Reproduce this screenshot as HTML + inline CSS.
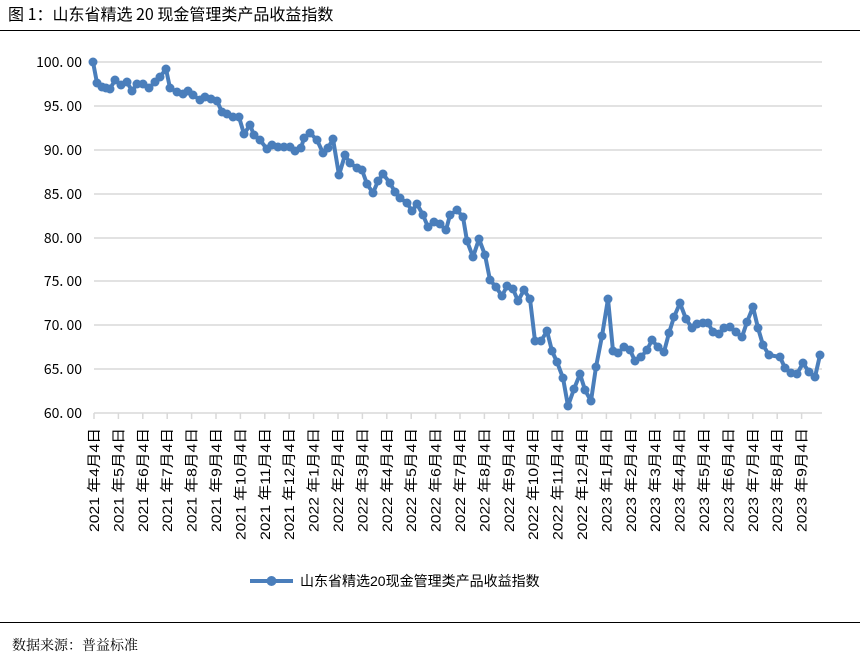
<!DOCTYPE html>
<html><head><meta charset="utf-8"><style>
body{margin:0;background:#fff;width:860px;height:656px;overflow:hidden;font-family:"Liberation Sans","Noto Sans CJK SC",sans-serif;}
</style></head><body>
<svg width="860" height="656" xmlns="http://www.w3.org/2000/svg" style="position:absolute;left:0;top:0">
<text x="8" y="20" font-size="16" font-family="Noto Sans CJK SC,sans-serif" fill="#000">图 1：山东省精选 20 现金管理类产品收益指数</text>
<line x1="0" y1="30.5" x2="860" y2="30.5" stroke="#000" stroke-width="1"/>
<g stroke="#d9d9d9" stroke-width="1.5">
<line x1="94" y1="62" x2="822" y2="62"/><line x1="94" y1="106" x2="822" y2="106"/>
<line x1="94" y1="150" x2="822" y2="150"/><line x1="94" y1="194" x2="822" y2="194"/>
<line x1="94" y1="238" x2="822" y2="238"/><line x1="94" y1="281" x2="822" y2="281"/>
<line x1="94" y1="325" x2="822" y2="325"/><line x1="94" y1="369" x2="822" y2="369"/>
<line x1="94" y1="413" x2="822" y2="413"/>
</g>
<g font-size="14" fill="#000" text-anchor="end" font-family="Noto Sans CJK SC,sans-serif">
<text x="82" y="67">100. 00</text><text x="82" y="111">95. 00</text><text x="82" y="155">90. 00</text>
<text x="82" y="199">85. 00</text><text x="82" y="243">80. 00</text><text x="82" y="286">75. 00</text>
<text x="82" y="330">70. 00</text><text x="82" y="374">65. 00</text><text x="82" y="418">60. 00</text>
</g>
<g id="ticks" stroke="#d9d9d9" stroke-width="1.5"></g>
<g id="xl" font-size="14" fill="#000"></g>
<polyline id="pl" fill="none" stroke="#4a7ebb" stroke-width="4" stroke-linejoin="round"/>
<g id="mk" fill="#4a7ebb"></g>
<line x1="250" y1="581" x2="293" y2="581" stroke="#4a7ebb" stroke-width="4"/>
<circle cx="271.5" cy="581" r="5" fill="#4a7ebb"/>
<text x="300" y="586" font-size="14" fill="#000">山东省精选20现金管理类产品收益指数</text>
<line x1="0" y1="622.5" x2="860" y2="622.5" stroke="#000" stroke-width="1"/>
<text x="12" y="650" font-size="14" font-family="Noto Serif CJK SC,Noto Sans CJK SC,serif" fill="#000">数据来源：普益标准</text>
</svg>
<script>
var pts=[[93,62],[97,83],[102,87],[106,88],[110,89],[115,80],[121,85],[127,82],[132,91],[137,84],[143,84],[149,88],[155,82],[160,77],[166,69],[170,88],[177,92],[183,94],[188,91],[193,95],[200,100],[205,97],[211,99],[217,101],[222,112],[227,114],[233,117],[239,117],[244,134],[250,125],[254,135],[260,140],[267,149],[272,145],[278,147],[284,147],[290,147],[295,151],[301,148],[304,138],[310,133],[317,140],[323,153],[328,148],[333,139],[339,175],[345,155],[350,163],[357,168],[362,170],[367,184],[373,193],[378,181],[383,174],[390,183],[395,192],[400,198],[407,203],[412,211],[417,204],[423,215],[428,227],[434,222],[440,224],[446,230],[450,215],[457,210],[463,217],[467,241],[473,257],[479,239],[485,255],[490,280],[496,287],[502,296],[507,286],[513,289],[518,301],[524,290],[530,299],[535,341],[541,341],[547,331],[552,351],[557,362],[563,378],[568,406],[574,389],[580,374],[585,390],[591,401],[596,367],[602,336],[608,299],[613,351],[618,353],[624,347],[630,350],[635,361],[641,357],[647,350],[652,340],[658,347],[664,352],[669,333],[674,317],[680,303],[686,319],[692,328],[697,324],[703,323],[708,323],[713,332],[719,334],[724,328],[730,327],[736,332],[742,337],[747,322],[753,307],[758,328],[763,345],[769,355],[780,357],[785,368],[791,373],[797,374],[803,363],[809,372],[815,377],[820,355]];
var NS="http://www.w3.org/2000/svg";
document.getElementById('pl').setAttribute('points',pts.map(p=>p.join(',')).join(' '));
var mk=document.getElementById('mk');
pts.forEach(p=>{var c=document.createElementNS(NS,'circle');c.setAttribute('cx',p[0]);c.setAttribute('cy',p[1]);c.setAttribute('r',4.5);mk.appendChild(c);});
var tk=document.getElementById('ticks'),xl=document.getElementById('xl');
for(var i=0;i<30;i++){var y=2021,m=4+i;while(m>12){m-=12;y++;}
 var x=94+i*24.4;
 var l=document.createElementNS(NS,'line');l.setAttribute('x1',x);l.setAttribute('x2',x);l.setAttribute('y1',413);l.setAttribute('y2',419);tk.appendChild(l);
 var t=document.createElementNS(NS,'text');t.setAttribute('text-anchor','end');
 t.setAttribute('textLength',m>=10?112:104);t.setAttribute('lengthAdjust','spacingAndGlyphs');
 t.setAttribute('transform','translate('+(x+5)+',428) rotate(-90)');t.textContent=y+' 年'+m+'月4日';xl.appendChild(t);
}
</script>
</body></html>
